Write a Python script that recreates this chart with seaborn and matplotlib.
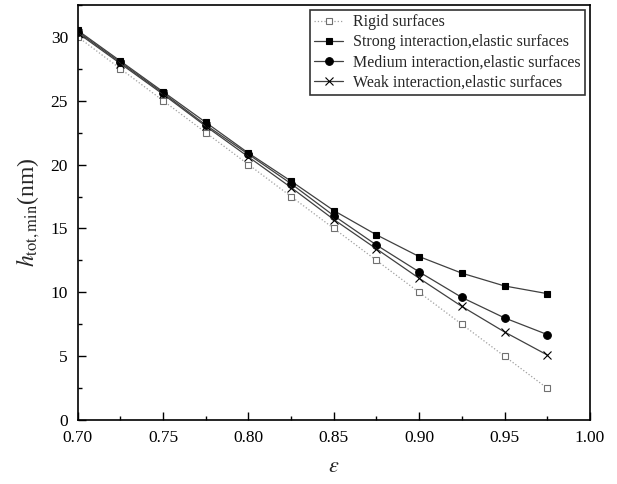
import numpy as np
import pandas as pd
import matplotlib
matplotlib.use('Agg')
import matplotlib.pyplot as plt
from matplotlib.ticker import MultipleLocator
import seaborn as sns

eps = [0.700, 0.725, 0.750, 0.775, 0.800, 0.825, 0.850, 0.875, 0.900, 0.925, 0.950, 0.975]
rigid = [30.0, 27.5, 25.0, 22.5, 20.0, 17.5, 15.0, 12.5, 10.0, 7.5, 5.0, 2.5]
strong = [30.5, 28.1, 25.7, 23.3, 20.9, 18.7, 16.4, 14.5, 12.8, 11.5, 10.5, 9.9]
medium = [30.4, 28.0, 25.6, 23.1, 20.8, 18.5, 16.0, 13.7, 11.6, 9.6, 8.0, 6.7]
weak = [30.3, 27.9, 25.5, 23.0, 20.6, 18.2, 15.7, 13.4, 11.1, 8.9, 6.9, 5.1]

labels = ['Rigid surfaces',
          'Strong interaction,elastic surfaces',
          'Medium interaction,elastic surfaces',
          'Weak interaction,elastic surfaces']

sns.set_style('ticks')
plt.rcParams['font.family'] = ['Liberation Serif', 'DejaVu Serif']
plt.rcParams['mathtext.fontset'] = 'stix'

fig = plt.figure(figsize=(6.17, 4.84), dpi=100)
ax = fig.add_axes([0.126, 0.132, 0.830, 0.858])

# series styles: (values, marker, linestyle, line color, marker face, marker size)
styles = [
    (rigid, 's', ':', '#a0a0a0', 'white', 4.5),
    (strong, 's', '-', '#404040', 'black', 5),
    (medium, 'o', '-', '#404040', 'black', 5.5),
    (weak, 'x', '-', '#404040', 'black', 6),
]

for (vals, marker, ls, color, face, ms), name in zip(styles, labels):
    df = pd.DataFrame({'eps': eps, 'h': vals})
    edge = '#707070' if face == 'white' else 'black'
    sns.lineplot(data=df, x='eps', y='h', ax=ax, label=name,
                 color=color, linestyle=ls, linewidth=0.9,
                 marker=marker, markersize=ms, markerfacecolor=face,
                 markeredgecolor=edge, markeredgewidth=0.8)

ax.set_xlim(0.70, 1.00)
ax.set_ylim(0, 32.5)
ax.xaxis.set_major_locator(MultipleLocator(0.05))
ax.xaxis.set_minor_locator(MultipleLocator(0.025))
ax.yaxis.set_major_locator(MultipleLocator(5))
ax.yaxis.set_minor_locator(MultipleLocator(2.5))
ax.set_xticklabels([f'{t:.2f}' for t in ax.get_xticks()])
ax.tick_params(which='both', direction='in', top=False, right=False,
               labelsize=12.5, colors='black')
ax.tick_params(which='major', length=6, width=1, pad=7)
ax.tick_params(which='minor', length=3, width=1)
for sp in ax.spines.values():
    sp.set_visible(True)
    sp.set_linewidth(1.2)
    sp.set_color('black')

ax.set_xlabel(r'$\varepsilon$', fontsize=16, labelpad=9)
ax.set_ylabel(r'$h_{\mathrm{tot,min}}$(nm)', fontsize=17, labelpad=6)

leg = ax.legend(loc='upper right', fontsize=11.5, frameon=True, fancybox=False,
                edgecolor='black', borderpad=0.3, labelspacing=0.25,
                handlelength=1.8, handletextpad=0.6, borderaxespad=0.3,
                bbox_to_anchor=(1.0, 1.0))
leg.get_frame().set_linewidth(1.2)

fig.savefig('out.png', dpi=100)
